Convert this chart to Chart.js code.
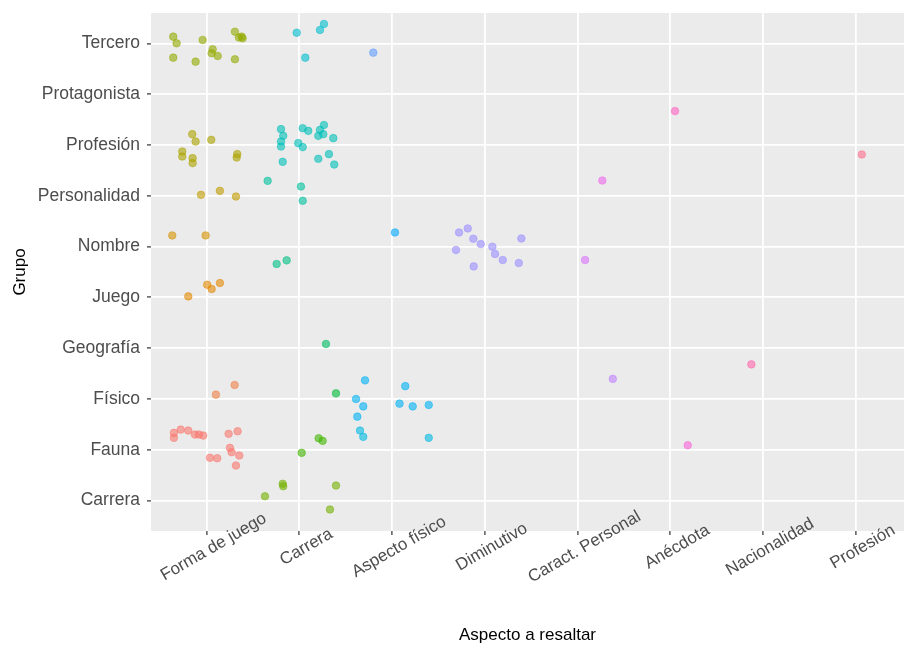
<!DOCTYPE html>
<html>
<head>
<meta charset="utf-8">
<title>Aspecto a resaltar por grupo</title>
<script src="https://cdn.jsdelivr.net/npm/chart.js@4.4.1/dist/chart.umd.min.js"></script>
<style>
  html, body { margin: 0; padding: 0; background: #fff; overflow: hidden; }
  #wrap { width: 904px; height: 648px; }
</style>
</head>
<body>
<div id="wrap"><canvas id="chart" width="904" height="648"></canvas></div>
<script>
// ================== DATOS ==================
const aspectos = ["Forma de juego", "Carrera", "Aspecto físico", "Diminutivo",
  "Caract. Personal", "Anécdota", "Nacionalidad", "Profesión"];
const grupos = ["Carrera", "Fauna", "Físico", "Geografía", "Juego", "Nombre",
  "Personalidad", "Profesión", "Protagonista", "Tercero"];

// puntos con jitter: [grupo, desvío x, desvío y] (en unidades de categoría)
const formaDeJuego = [
  ["Fauna", -0.353, 0.332], ["Fauna", -0.353, 0.234], ["Fauna", -0.280, 0.397], ["Fauna", -0.198, 0.378],
  ["Fauna", -0.126, 0.299], ["Fauna", -0.083, 0.299], ["Fauna", -0.037, 0.279], ["Fauna", 0.237, 0.313],
  ["Fauna", 0.334, 0.364], ["Fauna", 0.251, 0.037], ["Fauna", 0.270, -0.049], ["Fauna", 0.352, -0.114],
  ["Fauna", 0.316, -0.311], ["Fauna", 0.036, -0.159], ["Fauna", 0.114, -0.167],
  ["Físico", 0.100, 0.085], ["Físico", 0.302, 0.275],
  ["Juego", 0.006, 0.250], ["Juego", 0.054, 0.165], ["Juego", 0.143, 0.283], ["Juego", -0.198, 0.020],
  ["Nombre", -0.371, 0.220], ["Nombre", -0.011, 0.220],
  ["Personalidad", -0.061, 0.020], ["Personalidad", 0.143, 0.098], ["Personalidad", 0.316, -0.014],
  ["Profesión", -0.155, 0.214], ["Profesión", -0.119, 0.069], ["Profesión", 0.050, 0.102],
  ["Profesión", -0.263, -0.128], ["Profesión", -0.263, -0.226], ["Profesión", -0.151, -0.258],
  ["Profesión", -0.151, -0.356], ["Profesión", 0.330, -0.179], ["Profesión", 0.324, -0.246],
  ["Tercero", -0.360, 0.134], ["Tercero", -0.324, 0.004], ["Tercero", -0.043, 0.069], ["Tercero", 0.305, 0.232],
  ["Tercero", 0.378, 0.134], ["Tercero", 0.388, 0.102], ["Tercero", 0.348, 0.118], ["Tercero", 0.065, -0.114],
  ["Tercero", 0.054, -0.193], ["Tercero", 0.119, -0.246], ["Tercero", -0.360, -0.279], ["Tercero", -0.119, -0.358],
  ["Tercero", 0.305, -0.311]
];
const carrera = [
  ["Carrera", -0.180, 0.329], ["Carrera", -0.174, 0.281], ["Carrera", -0.371, 0.085], ["Carrera", 0.395, 0.295],
  ["Carrera", 0.330, -0.177],
  ["Fauna", 0.208, 0.226], ["Fauna", 0.251, 0.175], ["Fauna", 0.025, -0.061],
  ["Físico", 0.395, 0.110],
  ["Geografía", 0.287, 0.083],
  ["Nombre", -0.245, -0.342], ["Nombre", -0.137, -0.271],
  ["Personalidad", -0.342, 0.295], ["Personalidad", 0.017, 0.183], ["Personalidad", 0.036, -0.098],
  ["Profesión", -0.198, 0.313], ["Profesión", -0.174, 0.181], ["Profesión", -0.198, 0.069], ["Profesión", -0.198, -0.030],
  ["Profesión", 0.036, 0.332], ["Profesión", 0.096, 0.279], ["Profesión", -0.012, 0.037], ["Profesión", 0.036, -0.041],
  ["Profesión", 0.222, 0.299], ["Profesión", 0.265, 0.395], ["Profesión", 0.204, 0.181], ["Profesión", 0.258, 0.214],
  ["Profesión", 0.366, 0.136], ["Profesión", -0.180, -0.331], ["Profesión", 0.204, -0.271], ["Profesión", 0.319, -0.179],
  ["Profesión", 0.376, -0.384],
  ["Tercero", -0.029, 0.212], ["Tercero", 0.222, 0.266], ["Tercero", 0.265, 0.384], ["Tercero", 0.064, -0.279]
];
const aspectoFisico = [
  ["Fauna", -0.346, 0.378], ["Fauna", -0.311, 0.254], ["Fauna", 0.395, 0.234],
  ["Físico", -0.292, 0.366], ["Físico", -0.389, 0.000], ["Físico", -0.311, -0.146], ["Físico", -0.375, -0.348],
  ["Físico", 0.142, 0.252], ["Físico", 0.080, -0.092], ["Físico", 0.222, -0.146], ["Físico", 0.395, -0.118],
  ["Nombre", 0.031, 0.279],
  ["Tercero", -0.203, -0.181]
];
const diminutivo = [
  ["Nombre", -0.278, 0.279], ["Nombre", -0.184, 0.358], ["Nombre", -0.124, 0.155], ["Nombre", -0.044, 0.051],
  ["Nombre", -0.311, -0.067], ["Nombre", 0.081, -0.002], ["Nombre", 0.110, -0.146], ["Nombre", 0.193, -0.264],
  ["Nombre", -0.120, -0.390], ["Nombre", 0.394, 0.161], ["Nombre", 0.366, -0.323]
];
const caractPersonal = [["Físico", 0.380, 0.395], ["Nombre", 0.081, -0.264], ["Personalidad", 0.267, 0.301]];
const anecdota = [["Fauna", 0.188, 0.089], ["Protagonista", 0.051, -0.332]];
const nacionalidad = [["Geografía", -0.126, -0.319]];
const profesion = [["Profesión", 0.065, -0.187]];

const porAspecto = [formaDeJuego, carrera, aspectoFisico, diminutivo,
  caractPersonal, anecdota, nacionalidad, profesion];

// ================== COLORES (paleta hue de ggplot) ==================
function hcl(h, c, l) {
  const hr = h * Math.PI / 180;
  const U = c * Math.cos(hr), V = c * Math.sin(hr);
  const Xn = 95.047, Yn = 100, Zn = 108.883;
  const un = 4 * Xn / (Xn + 15 * Yn + 3 * Zn), vn = 9 * Yn / (Xn + 15 * Yn + 3 * Zn);
  const Y = l > 8 ? Yn * Math.pow((l + 16) / 116, 3) : Yn * l / 903.3;
  const u = U / (13 * l) + un, v = V / (13 * l) + vn;
  const X = 9 * Y * u / (4 * v);
  const Z = -X / 3 - 5 * Y + 3 * Y / v;
  const x = X / 100, y = Y / 100, z = Z / 100;
  const lin = [
    3.240479 * x - 1.537150 * y - 0.498535 * z,
    -0.969256 * x + 1.875992 * y + 0.041556 * z,
    0.055648 * x - 0.204043 * y + 1.057311 * z
  ];
  return lin.map(t => {
    const g = t <= 0.0031308 ? 12.92 * t : 1.055 * Math.pow(t, 1 / 2.4) - 0.055;
    return Math.round(Math.min(1, Math.max(0, g)) * 255);
  });
}

// ================== DATASETS ==================
const combos = [];
porAspecto.forEach((puntos, ai) => {
  grupos.forEach((g, gi) => {
    const pts = puntos.filter(p => p[0] === g);
    if (pts.length) combos.push({ ai, gi, pts });
  });
});

const datasets = combos.map((cb, k) => {
  const [r, g, b] = hcl(15 + k * 360 / combos.length, 100, 65);
  const col = `rgba(${r},${g},${b},0.6)`;
  return {
    label: aspectos[cb.ai] + " / " + grupos[cb.gi],
    data: cb.pts.map(p => ({ x: cb.ai + p[1], y: cb.gi + p[2] })),
    backgroundColor: col,
    borderColor: col,
    borderWidth: 0.8,
    pointRadius: 3.8,
    pointHoverRadius: 3.8
  };
});

// ================== PLUGINS ==================
const FONT = "'Liberation Sans', Arial, sans-serif";

const panelBg = {
  id: "panelBg",
  beforeDraw(chart) {
    const { ctx, chartArea: a } = chart;
    ctx.save();
    ctx.fillStyle = "#EBEBEB";
    ctx.fillRect(a.left, a.top, a.right - a.left, a.bottom - a.top);
    ctx.restore();
  }
};

// etiquetas del eje x giradas 30 grados, centradas bajo cada marca
const xLabels = {
  id: "xLabels",
  afterDraw(chart) {
    const { ctx, scales: { x } } = chart;
    ctx.save();
    ctx.font = "17px " + FONT;
    ctx.fillStyle = "#4D4D4D";
    ctx.textAlign = "center";
    ctx.textBaseline = "middle";
    aspectos.forEach((a, i) => {
      ctx.save();
      ctx.translate(x.getPixelForValue(i) + 7, 547);
      ctx.rotate(-Math.PI / 6);
      ctx.fillText(a, 0, 0);
      ctx.restore();
    });
    ctx.restore();
  }
};

// ================== GRÁFICO ==================
new Chart(document.getElementById("chart"), {
  type: "scatter",
  data: { datasets },
  options: {
    responsive: false,
    animation: false,
    layout: { autoPadding: false, padding: { top: 13, right: 0, bottom: 0, left: 0 } },
    plugins: { legend: { display: false }, tooltip: { enabled: false } },
    scales: {
      x: {
        type: "linear",
        min: -0.6,
        max: 7.52,
        afterBuildTicks: s => { s.ticks = aspectos.map((_, i) => ({ value: i })); },
        afterFit: s => { s.height = 117; s.paddingLeft = 0; s.paddingRight = 0; },
        ticks: { display: false },
        grid: { color: "#FFFFFF", lineWidth: 1.8, drawTicks: true, tickLength: 4, tickColor: "#333333", tickWidth: 1.2 },
        border: { display: false },
        title: { display: true, text: "Aspecto a resaltar", color: "#000", font: { family: FONT, size: 17 }, padding: { top: 0, bottom: 2 } }
      },
      y: {
        type: "linear",
        min: -0.6,
        max: 9.6,
        afterBuildTicks: s => { s.ticks = grupos.map((_, i) => ({ value: i })); },
        afterFit: s => { s.width = 151; s.paddingTop = 0; s.paddingBottom = 0; },
        ticks: {
          callback: v => grupos[v],
          color: "#4D4D4D",
          font: { family: FONT, size: 17.5 },
          padding: 7
        },
        grid: { color: "#FFFFFF", lineWidth: 1.8, drawTicks: true, tickLength: 4, tickColor: "#333333", tickWidth: 1.2 },
        border: { display: false },
        title: { display: true, text: "Grupo", color: "#000", font: { family: FONT, size: 17 }, padding: { top: 10, bottom: 0 } }
      }
    }
  },
  plugins: [panelBg, xLabels]
});
</script>
</body>
</html>
